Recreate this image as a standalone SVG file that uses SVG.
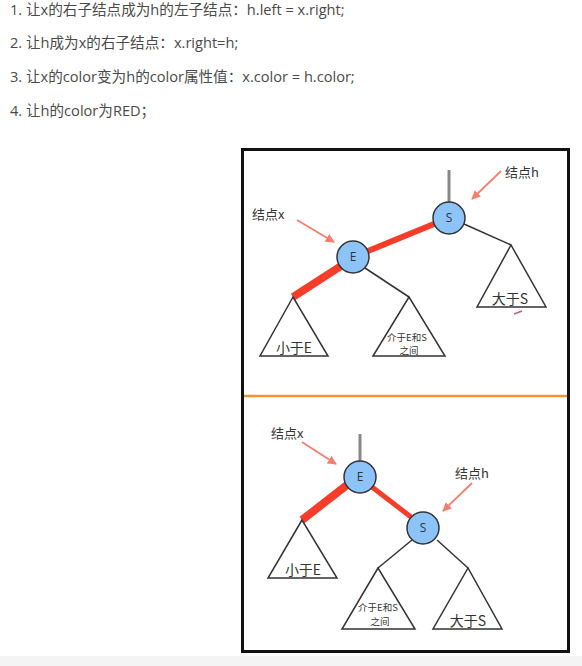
<svg xmlns="http://www.w3.org/2000/svg" width="582" height="666" viewBox="0 0 582 666">
<defs>
<marker id="ah" viewBox="0 0 10 10" refX="9" refY="5" markerWidth="5" markerHeight="5" orient="auto" markerUnits="strokeWidth">
<path d="M0,0 L10,5 L0,10 z" fill="#f47f6e"/>
</marker>
<style>
.t{font-family:"Open Sans","Noto Sans CJK SC",sans-serif;font-size:14.6px;fill:#4a4a4a}
.lb{font-family:"Noto Sans CJK SC","Open Sans",sans-serif;font-size:13px;fill:#333}
.tl{font-family:"Noto Sans CJK SC","Open Sans",sans-serif;font-size:14px;fill:#333;text-anchor:middle}
.ts{font-family:"Noto Sans CJK SC","Open Sans",sans-serif;font-size:9.5px;fill:#333;text-anchor:middle}
.nl{font-family:"Open Sans",sans-serif;font-size:12px;fill:#333;text-anchor:middle}
.nd{fill:#8cc4fa;stroke:#333;stroke-width:1.5}
.tri{fill:#fff;stroke:#333;stroke-width:1.5}
.e{stroke:#333;stroke-width:1.5;fill:none}
.r{stroke:#f53d2a;fill:none}
.g{stroke:#888;stroke-width:3}
.ar{stroke:#f47f6e;stroke-width:1.8;fill:none;marker-end:url(#ah)}
</style>
</defs>
<rect width="582" height="666" fill="#fff"/>
<rect x="0" y="656" width="582" height="10" fill="#f4f4f4"/>
<g id="text">
<text class="t" x="10" y="15">1. 让x的右子结点成为h的左子结点：h.left = x.right;</text>
<text class="t" x="10" y="48">2. 让h成为x的右子结点：x.right=h;</text>
<text class="t" x="10" y="82">3. 让x的color变为h的color属性值：x.color = h.color;</text>
<text class="t" x="10" y="116">4. 让h的color为RED；</text>
</g>
<g id="frame">
<rect x="242.5" y="149.5" width="326" height="502" fill="#fff" stroke="#111" stroke-width="3"/>
<line x1="244" y1="396" x2="567" y2="396" stroke="#f39233" stroke-width="2.5"/>
</g>
<g id="connectors">
<line class="g" x1="449" y1="170" x2="449" y2="202"/>
<line class="r" stroke-width="6" x1="434" y1="224" x2="368" y2="251"/>
<line class="r" stroke-width="8" x1="341" y1="266" x2="293" y2="297"/>
<line class="e" x1="365" y1="268" x2="409" y2="297"/>
<line class="e" x1="464" y1="224" x2="511" y2="245"/>
<line class="ar" x1="297" y1="220" x2="334" y2="242"/>
<line class="ar" x1="501" y1="171" x2="472" y2="199"/>
<line class="g" x1="360" y1="434" x2="360" y2="461"/>
<line class="r" stroke-width="8" x1="347" y1="485" x2="302" y2="520"/>
<line class="r" stroke-width="5" x1="372" y1="487" x2="411" y2="517"/>
<line class="e" x1="412" y1="540" x2="378" y2="568"/>
<line class="e" x1="437" y1="540" x2="468" y2="568"/>
<line class="ar" x1="302" y1="442" x2="336" y2="464"/>
<line class="ar" x1="472" y1="483" x2="443" y2="511"/>
</g>
<g id="top-x-label"><text class="lb" x="252" y="219">结点x</text></g>
<g id="top-h-label"><text class="lb" x="505" y="177">结点h</text></g>
<g id="top-S"><circle class="nd" cx="449" cy="218" r="16"/><text class="nl" x="449" y="222">S</text></g>
<g id="top-E"><circle class="nd" cx="353" cy="257" r="16"/><text class="nl" x="353" y="261">E</text></g>
<g id="top-lessE"><polygon class="tri" points="293,297 260,356 328,356"/><text class="tl" x="294" y="353">小于E</text></g>
<g id="top-between"><polygon class="tri" points="409,297 373,356 445,356"/><text class="ts" x="407" y="341">介于E和S</text><text class="ts" x="409" y="354">之间</text></g>
<g id="top-greaterS"><polygon class="tri" points="511,245 477,307 546,307"/><text class="tl" x="510" y="304">大于S</text></g>
<g id="mark"><line x1="514" y1="314" x2="522" y2="311" stroke="#c0607a" stroke-width="1.5"/></g>
<g id="bot-x-label"><text class="lb" x="271" y="438">结点x</text></g>
<g id="bot-h-label"><text class="lb" x="455" y="478">结点h</text></g>
<g id="bot-E"><circle class="nd" cx="360" cy="477" r="16"/><text class="nl" x="360" y="481">E</text></g>
<g id="bot-S"><circle class="nd" cx="423" cy="528" r="16"/><text class="nl" x="423" y="532">S</text></g>
<g id="bot-lessE"><polygon class="tri" points="302,520 268,578 337,578"/><text class="tl" x="303" y="575">小于E</text></g>
<g id="bot-between"><polygon class="tri" points="378,568 342,629 415,629"/><text class="ts" x="378" y="611">介于E和S</text><text class="ts" x="380" y="625">之间</text></g>
<g id="bot-greaterS"><polygon class="tri" points="468,568 433,629 502,629"/><text class="tl" x="468" y="626">大于S</text></g>
</svg>
